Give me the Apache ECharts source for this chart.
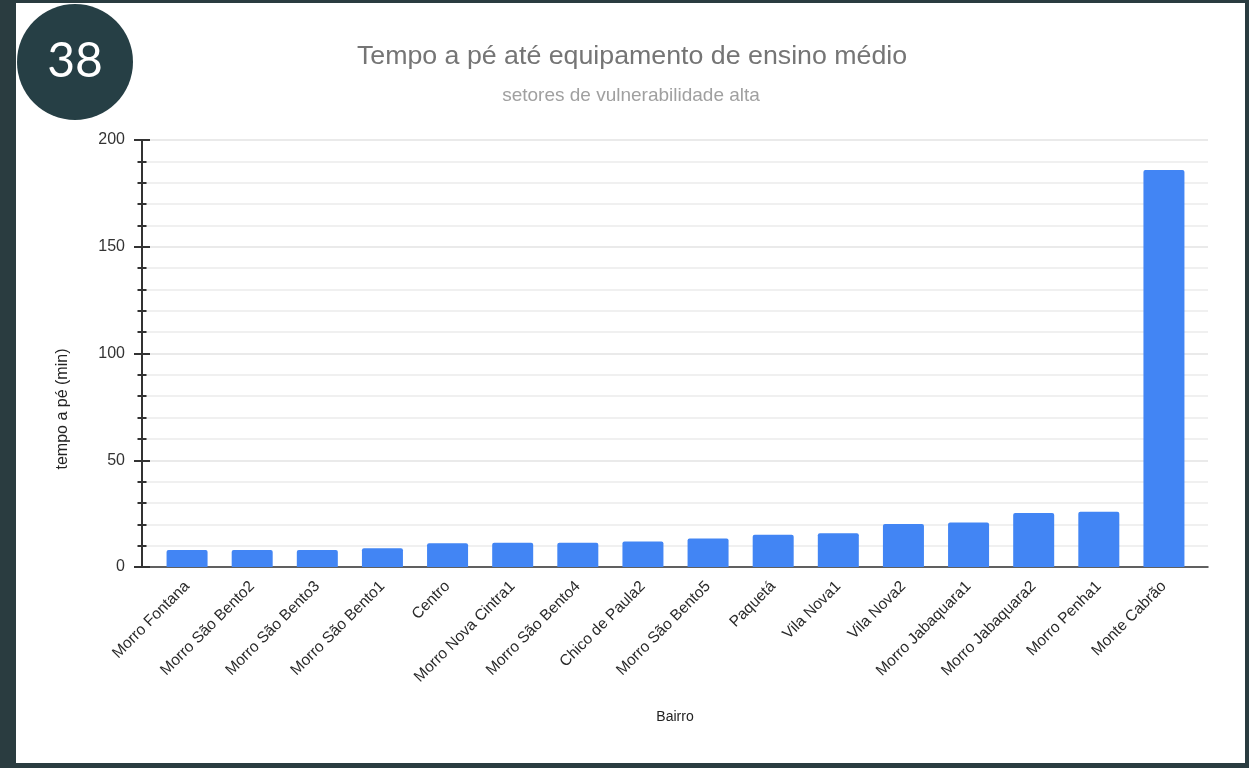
<!DOCTYPE html>
<html><head><meta charset="utf-8">
<script src="https://cdn.jsdelivr.net/npm/echarts@6/dist/echarts.min.js"></script>
<style>
html,body{margin:0;padding:0;width:1249px;height:768px;overflow:hidden;background:#2a3c40;}
#panel{position:absolute;left:16px;top:3px;width:1229px;height:760px;background:#fff;}
#chart{position:absolute;left:0;top:0;width:1249px;height:768px;}
</style></head><body><div id="panel"></div><div id="chart"></div>
<script>
const categories = ['Morro Fontana','Morro São Bento2','Morro São Bento3','Morro São Bento1','Centro','Morro Nova Cintra1','Morro São Bento4','Chico de Paula2','Morro São Bento5','Paquetá','Vila Nova1','Vila Nova2','Morro Jabaquara1','Morro Jabaquara2','Morro Penha1','Monte Cabrão'];
const values = [8.0, 8.0, 8.0, 8.8, 11.1, 11.3, 11.3, 12.0, 13.3, 15.1, 15.8, 20.1, 20.9, 25.3, 25.9, 186];
const yMin = 0, yMax = 200, yInterval = 50;
const titleText = 'Tempo a pé até equipamento de ensino médio';
const subtitleText = 'setores de vulnerabilidade alta';
const yName = 'tempo a pé (min)';
const xName = 'Bairro';
const badgeText = '38';

const FONT = '"Liberation Sans", Arial, sans-serif';
const gridBox = { left: 142, right: 41, top: 140, bottom: 201 };
const chart = echarts.init(document.getElementById('chart'));
chart.setOption({
  backgroundColor: 'transparent',
  animation: false,
  textStyle: { fontFamily: FONT },
  graphic: [
    { type: 'circle', shape: { cx: 75, cy: 62, r: 58 }, style: { fill: '#263f45' }, z: 100 },
    { type: 'text', x: 75, y: 62, style: { text: badgeText, fill: '#fff', font: '48px Lato, "Open Sans", sans-serif', textAlign: 'center', textVerticalAlign: 'middle' }, z: 101 },
    { type: 'text', x: 632, y: 57, scaleX: 1.07, style: { text: titleText, fill: '#757575', font: '25px ' + FONT, textAlign: 'center', textVerticalAlign: 'middle' } },
    { type: 'text', x: 631, y: 96, style: { text: subtitleText, fill: '#a0a0a0', font: '19px ' + FONT, textAlign: 'center', textVerticalAlign: 'middle' } },
    { type: 'text', x: 63, y: 409, rotation: Math.PI / 2, style: { text: yName, fill: '#222', font: '16px ' + FONT, textAlign: 'center', textVerticalAlign: 'middle' } }
  ],
  grid: [
    gridBox,
    { left: 154.5, right: 52.5, top: 140, bottom: 201 },
    gridBox,
    gridBox
  ],
  xAxis: [
    { type: 'value', gridIndex: 0, min: 0, max: 1, axisLine: { show: true, onZero: false, lineStyle: { color: '#333', width: 1.5 } },
      axisTick: { show: false }, axisLabel: { show: false }, splitLine: { show: false },
      name: xName, nameLocation: 'middle', nameGap: 143, nameTextStyle: { fontSize: 14, color: '#222', fontFamily: FONT } },
    { type: 'category', gridIndex: 1, data: categories, axisLine: { show: false }, axisTick: { show: false },
      axisLabel: { interval: 0, rotate: 45, fontSize: 15.5, color: '#2a2a2a', margin: 17, fontFamily: FONT } },
    { type: 'value', gridIndex: 2, min: 0, max: 1, show: false },
    { type: 'value', gridIndex: 3, min: 0, max: 1, show: false }
  ],
  yAxis: [
    { type: 'value', gridIndex: 0, min: yMin, max: yMax, interval: yInterval,
      axisLine: { show: true, lineStyle: { color: '#333', width: 2 } },
      axisTick: { show: false },
      axisLabel: { fontSize: 16, color: '#333', margin: 17, fontFamily: FONT },
      splitLine: { show: true, lineStyle: { color: '#e3e3e3', width: 1.5 } },
      minorSplitLine: { show: true, lineStyle: { color: '#ececec', width: 1.5 } },
      minorTick: { show: false, splitNumber: 5 } },
    { type: 'value', gridIndex: 1, min: yMin, max: yMax, show: false },
    { type: 'value', gridIndex: 2, min: yMin, max: yMax, interval: yInterval, position: 'left', offset: -8,
      axisLine: { show: false },
      axisTick: { show: true, length: 16, lineStyle: { color: '#333', width: 2 } },
      axisLabel: { show: false }, splitLine: { show: false } },
    { type: 'value', gridIndex: 3, min: yMin, max: yMax, interval: yInterval, position: 'left', offset: -4.5,
      axisLine: { show: false },
      axisTick: { show: false },
      minorTick: { show: true, splitNumber: 5, length: 9, lineStyle: { color: '#333', width: 2 } },
      axisLabel: { show: false }, splitLine: { show: false } }
  ],
  series: [{
    type: 'bar', xAxisIndex: 1, yAxisIndex: 1, data: values, barWidth: 41,
    itemStyle: { color: '#4285f4', borderRadius: [2, 2, 0, 0] }
  }]
});
</script></body></html>
